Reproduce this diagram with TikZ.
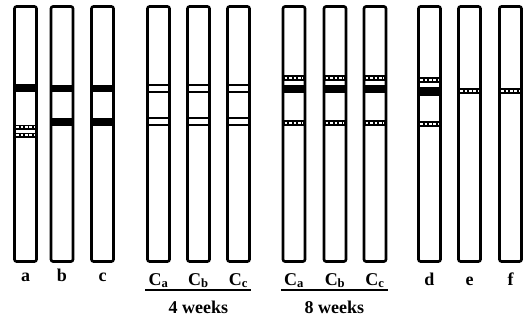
\documentclass[tikz,border=0pt]{standalone}
\usepackage{fontspec}
\setmainfont{Liberation Serif}
\usetikzlibrary{positioning}
\tikzset{
  tube/.style={draw, line width=2.6pt, rounded corners=2pt, minimum width=22pt, minimum height=255pt, inner sep=0pt},
  ringline/.style={line width=1.6pt},
  dotline/.style={white, line width=2.4pt, dash pattern=on 2.6pt off 1.8pt},
  lab/.style={font=\fontsize{18}{20}\bfseries\selectfont, inner sep=1pt, anchor=base},
  rule/.style={line width=1.3pt},
  wk/.style={below=9pt, font=\fontsize{18}{20}\bfseries\selectfont, inner sep=1pt}
}
% bands across a tube: tube name, top y, bottom y
\newcommand{\blackband}[3]{\fill (#1.west |- 0,#2) rectangle (#1.east |- 0,#3);}
\newcommand{\ringband}[3]{\draw[ringline] (#1.west |- 0,#2) -- (#1.east |- 0,#2) (#1.west |- 0,#3) -- (#1.east |- 0,#3);}
\newcommand{\dotband}[3]{%
  \fill (#1.west |- 0,#2) rectangle (#1.east |- 0,#3);
  \draw[dotline] ([xshift=3pt]#1.west |- 0,{(#2+#3)/2}) -- ([xshift=-3pt]#1.east |- 0,{(#2+#3)/2});}
\begin{document}
\begin{tikzpicture}[x=1pt, y=-1pt]
  \useasboundingbox (0,0) rectangle (530,321);
  % tubes
  \foreach \name/\xc in {ta/25.5, tb/62, tc/102.5, tca/158.5, tcb/198.5, tcc/238.5,
                         tea/294, teb/335, tec/375, td/429.5, te/469.5, tf/510.5}
    \node (\name) [tube] at (\xc,134) {};

  % a, b, c
  \blackband{ta}{84}{92}
  \dotband{ta}{124.5}{130}
  \dotband{ta}{132.5}{138}
  \blackband{tb}{85}{92}
  \blackband{tb}{118}{126}
  \blackband{tc}{85}{92}
  \blackband{tc}{118}{126}

  % 4 weeks
  \foreach \t in {tca, tcb, tcc} {
    \ringband{\t}{85}{92}
    \ringband{\t}{118}{125}
  }

  % 8 weeks
  \foreach \t in {tea, teb, tec} {
    \dotband{\t}{75}{81}
    \blackband{\t}{85}{93}
    \dotband{\t}{120}{126}
  }

  % d, e, f
  \dotband{td}{77}{83}
  \blackband{td}{87}{96}
  \dotband{td}{121}{127}
  \dotband{te}{88}{94}
  \dotband{tf}{88}{94}

  % labels
  \node (la) [lab] at (ta.south |- 0,281) {a};
  \node (lb) [lab] at (tb.south |- 0,281) {b};
  \node (lc) [lab] at (tc.south |- 0,281) {c};
  \node (lca) [lab] at (tca.south |- 0,285) {C\textsubscript{a}};
  \node (lcb) [lab] at (tcb.south |- 0,285) {C\textsubscript{b}};
  \node (lcc) [lab] at (tcc.south |- 0,285) {C\textsubscript{c}};
  \node (lea) [lab] at (tea.south |- 0,285) {C\textsubscript{a}};
  \node (leb) [lab] at (teb.south |- 0,285) {C\textsubscript{b}};
  \node (lec) [lab] at (tec.south |- 0,285) {C\textsubscript{c}};
  \node (ld) [lab] at (td.south |- 0,285) {d};
  \node (le) [lab] at (te.south |- 0,285) {e};
  \node (lf) [lab] at (tf.south |- 0,285) {f};

  \draw[rule] ([xshift=-2pt]lca.west |- 0,290) -- node[wk] {4 weeks} ([xshift=2pt]lcc.east |- 0,290);
  \draw[rule] ([xshift=-2pt]lea.west |- 0,290) -- node[wk] {8 weeks} ([xshift=2pt]lec.east |- 0,290);
\end{tikzpicture}
\end{document}
